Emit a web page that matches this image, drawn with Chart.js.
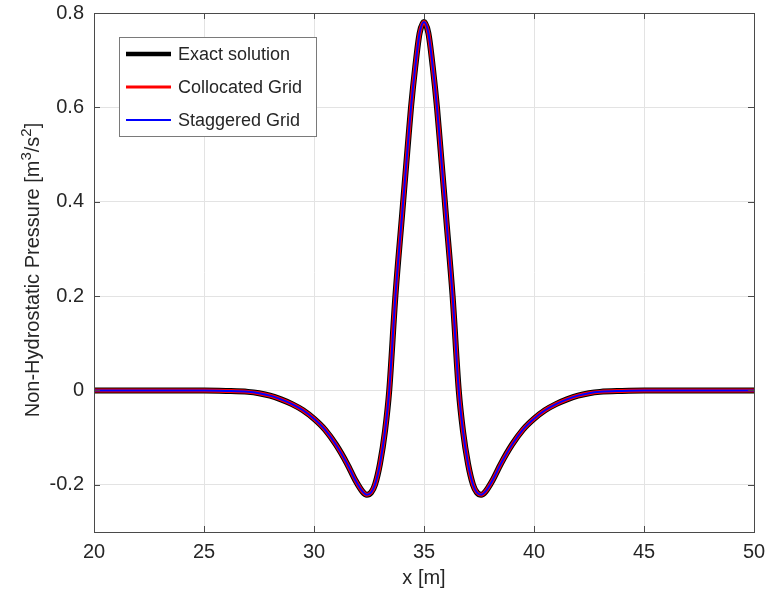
<!DOCTYPE html>
<html>
<head>
<meta charset="utf-8">
<script src="https://cdn.jsdelivr.net/npm/chart.js@4.4.1/dist/chart.umd.min.js"></script>
<style>
    html, body { margin: 0; padding: 0; background: #fff; }
    #wrap { width: 765px; height: 596px; }
</style>
</head>
<body>
<div id="wrap"><canvas id="chart" width="765" height="596"></canvas></div>
<script>
// values
const xValues = [20, 23, 25, 26, 27, 27.5, 28, 28.5, 29, 29.5, 30, 30.5, 31, 31.5, 31.9, 32.2, 32.4, 32.6, 32.77, 33, 33.23, 33.42, 33.7, 34, 34.3, 34.41, 34.6, 34.8, 35,
                 35.2, 35.4, 35.59, 35.7, 36, 36.3, 36.58, 36.77, 37, 37.23, 37.4, 37.6, 37.8, 38.1, 38.5, 39, 39.5, 40, 40.5, 41, 41.5, 42, 42.5, 43, 44, 45, 47, 50];
const exactValues = [0, 0, 0, -0.001, -0.003, -0.006, -0.011, -0.019, -0.029, -0.042, -0.060, -0.083, -0.115, -0.155, -0.192, -0.214, -0.221, -0.216, -0.2, -0.155, -0.085, 0, 0.2, 0.37, 0.54, 0.6, 0.685, 0.757, 0.781,
                     0.757, 0.685, 0.6, 0.54, 0.37, 0.2, 0, -0.085, -0.155, -0.2, -0.216, -0.221, -0.214, -0.192, -0.155, -0.115, -0.083, -0.060, -0.042, -0.029, -0.019, -0.011, -0.006, -0.003, -0.001, 0, 0, 0];
// both schemes lie on top of the exact curve in the picture
const collocatedValues = exactValues.slice();
const staggeredValues = exactValues.slice();

const seriesNames = ['Exact solution', 'Collocated Grid', 'Staggered Grid'];
const seriesColors = ['#000000', '#ff0000', '#0000ff'];
const xTicks = [20, 25, 30, 35, 40, 45, 50];
const yTicks = [-0.2, 0, 0.2, 0.4, 0.6, 0.8];

const FONT = '"Liberation Sans", Helvetica, Arial, sans-serif';
const TEXT = '#262626';

const toPoints = (ys) => xValues.map((x, i) => ({ x: x, y: ys[i] }));

// box, inward ticks, legend and axis titles
const decor = {
    id: 'decor',
    afterDraw(chart) {
        const { ctx, chartArea: a, scales } = chart;
        const sx = scales.x, sy = scales.y;
        ctx.save();

        ctx.strokeStyle = '#4a4a4a';
        ctx.lineWidth = 1;
        ctx.beginPath();
        xTicks.forEach(v => {
            const px = Math.round(sx.getPixelForValue(v)) + 0.5;
            ctx.moveTo(px, a.bottom); ctx.lineTo(px, a.bottom - 6);
            ctx.moveTo(px, a.top); ctx.lineTo(px, a.top + 6);
        });
        yTicks.forEach(v => {
            const py = Math.round(sy.getPixelForValue(v)) + 0.5;
            ctx.moveTo(a.left, py); ctx.lineTo(a.left + 6, py);
            ctx.moveTo(a.right, py); ctx.lineTo(a.right - 6, py);
        });
        ctx.stroke();
        ctx.strokeRect(Math.round(a.left) + 0.5, Math.round(a.top) + 0.5, Math.round(a.right - a.left), Math.round(a.bottom - a.top));

        // legend
        ctx.fillStyle = '#fff';
        ctx.fillRect(119.5, 37.5, 197, 99);
        ctx.strokeStyle = '#7a7a7a';
        ctx.strokeRect(119.5, 37.5, 197, 99);
        const widths = [4.5, 3, 2];
        ctx.font = '18px ' + FONT;
        ctx.textBaseline = 'middle';
        ctx.textAlign = 'left';
        seriesNames.forEach((name, i) => {
            const ly = 54 + i * 33;
            ctx.strokeStyle = seriesColors[i];
            ctx.lineWidth = widths[i];
            ctx.beginPath();
            ctx.moveTo(126, ly); ctx.lineTo(171, ly);
            ctx.stroke();
            ctx.fillStyle = TEXT;
            ctx.fillText(name, 178, ly + 1);
        });

        // x title
        ctx.font = '20px ' + FONT;
        ctx.textAlign = 'center';
        ctx.fillText('x [m]', (a.left + a.right) / 2, 578);

        // y title with superscripts
        const parts = [['Non-Hydrostatic Pressure [m', 20, 0], ['3', 15, 8], ['/s', 20, 0], ['2', 15, 8], [']', 20, 0]];
        let total = 0;
        parts.forEach(p => { ctx.font = p[1] + 'px ' + FONT; total += ctx.measureText(p[0]).width; });
        ctx.translate(39, 270);
        ctx.rotate(-Math.PI / 2);
        ctx.textAlign = 'left';
        ctx.textBaseline = 'alphabetic';
        let cx = -total / 2;
        parts.forEach(p => {
            ctx.font = p[1] + 'px ' + FONT;
            ctx.fillText(p[0], cx, -p[2]);
            cx += ctx.measureText(p[0]).width;
        });
        ctx.restore();
    }
};

const lineWidths = [6, 4, 2];
const datasets = [exactValues, collocatedValues, staggeredValues].map((vals, i) => ({
    label: seriesNames[i],
    data: toPoints(vals),
    borderColor: seriesColors[i],
    backgroundColor: seriesColors[i],
    borderWidth: lineWidths[i],
    pointRadius: 0,
    fill: false,
    cubicInterpolationMode: 'monotone',
    order: 3 - i
}));

const noPad = (s) => { s.paddingLeft = 0; s.paddingRight = 0; s.paddingTop = 0; s.paddingBottom = 0; };

new Chart(document.getElementById('chart').getContext('2d'), {
    type: 'line',
    data: { datasets: datasets },
    options: {
        responsive: false,
        animation: false,
        events: [],
        layout: { padding: { top: 13, right: 11, left: 0, bottom: 0 } },
        plugins: { legend: { display: false }, tooltip: { enabled: false } },
        scales: {
            x: {
                type: 'linear',
                min: 20, max: 50,
                afterBuildTicks: (s) => { s.ticks = xTicks.map(v => ({ value: v })); },
                afterFit: (s) => { s.height = 64; noPad(s); },
                grid: { color: '#e3e3e3', drawTicks: false },
                border: { display: false },
                ticks: { padding: 8, color: TEXT, font: { family: FONT, size: 20 }, maxRotation: 0 }
            },
            y: {
                type: 'linear',
                min: -0.3, max: 0.8,
                afterBuildTicks: (s) => { s.ticks = yTicks.map(v => ({ value: v })); },
                afterFit: (s) => { s.width = 94; noPad(s); },
                grid: { color: '#e3e3e3', drawTicks: false },
                border: { display: false },
                ticks: { padding: 10, color: TEXT, font: { family: FONT, size: 20 }, callback: (v) => String(Math.round(v * 10) / 10) }
            }
        }
    },
    plugins: [decor]
});
</script>
</body>
</html>
